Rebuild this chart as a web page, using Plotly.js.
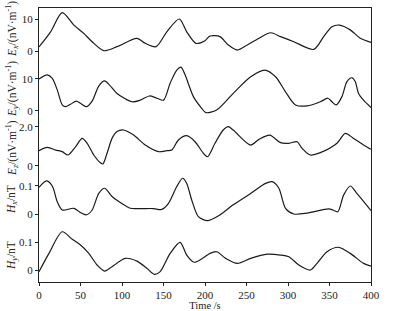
<!DOCTYPE html>
<html><head><meta charset="utf-8">
<script src="https://cdn.plot.ly/plotly-3.0.1.min.js"></script>
<style>html,body{margin:0;padding:0;background:#fff}#chart{width:393px;height:311px}</style>
</head><body><div id="chart"></div>
<script>
// ---- data ----
const exT = [0,14,28,42,54,64,78,94,118,128,141,154,169,178,189,200,206,218,228,239,251,265,279,291,307,331,343,353,362,375,387,400];
const exV = [1.3,6.0,12.0,8.1,5.5,2.9,0.1,1.35,3.96,2.4,1.35,6.0,10.0,6.0,2.4,3.2,4.7,4.5,1.9,0.3,1.9,4.0,5.7,4.5,2.9,0.5,4.5,7.6,8.1,6.6,4.0,2.7];

const eyT = [0,10,16,22,28,32,38,45,50,57,64,72,79,85,94,112,122,133,142,150,158,166,171,176,186,196,201,214,234,255,272,285,297,309,323,339,348,353,358,365,371,377,381,385,391,400];
const eyV = [9.9,11.2,10.1,6.5,1.8,1.25,2.0,3.0,2.3,1.25,3.0,7.7,9.3,8.0,5.4,2.8,3.3,4.6,3.9,3.3,8.6,12.7,13.6,11.2,4.4,0.75,-0.6,0.2,5.4,10.6,12.7,10.6,5.9,1.8,1.5,2.8,3.9,2.8,1.8,4.4,9.1,10.3,9.1,5.4,3.3,1.0];

const ezT = [0,10,20,28,35,44,52,58,66,74,77,82,88,94,102,114,128,144,154,160,168,178,188,198,203,212,222,228,234,255,265,278,291,301,311,317,327,339,359,369,379,391,400];
const ezV = [0.77,0.94,0.8,0.72,0.55,0.97,1.4,1.15,0.55,0.15,0.09,0.64,1.4,1.75,1.83,1.57,1.06,0.72,0.77,0.8,1.32,1.54,1.23,0.64,0.46,1.15,1.83,2.0,1.83,1.06,1.35,1.57,1.18,1.15,1.23,0.89,0.55,0.67,1.15,1.66,1.4,1.06,0.84];

const hxT = [0,9,16,22,28,42,50,57,64,72,79,88,98,110,122,138,148,156,166,173,178,184,192,203,218,234,255,273,281,289,297,307,323,349,354,360,367,375,383,400];
const hxV = [0.094,0.117,0.099,0.044,0.015,0.021,0.006,-0.002,0.015,0.073,0.091,0.062,0.041,0.021,0.02,0.02,0.017,0.038,0.097,0.126,0.108,0.05,-0.008,-0.022,-0.002,0.033,0.073,0.108,0.114,0.091,0.021,0.001,0.004,0.019,0.015,0.009,0.067,0.099,0.073,0.013];

const hyT = [0,12,28,40,50,60,70,79,88,104,118,130,139,146,158,170,178,187,198,206,214,225,239,255,275,291,301,313,327,335,347,361,375,391,400];
const hyV = [-0.006,0.06,0.138,0.111,0.09,0.06,0.018,-0.004,0.012,0.042,0.032,0.006,-0.016,-0.006,0.06,0.1,0.054,0.028,0.044,0.06,0.066,0.042,0.024,0.042,0.057,0.054,0.048,0.018,0.0,0.024,0.066,0.082,0.06,0.024,0.014];

const xTicks = [0,50,100,150,200,250,300,350,400];
const panelTitles = ['<i>E</i><sub><i>x</i></sub>/(nV·m<sup>-1</sup>)','<i>E</i><sub><i>y</i></sub>/(nV·m<sup>-1</sup>)','<i>E</i><sub><i>z</i></sub>/(nV·m<sup>-1</sup>)','<i>H</i><sub><i>x</i></sub>/nT','<i>H</i><sub><i>y</i></sub>/nT'];
const panelTickVals = [[0,10],[0,10],[0,2],[0,0.1],[0,0.1]];
const panelTickText = [['0','10'],['0','10'],['0','2.0'],['0','0.1'],['0','0.1']];

// ---- layout geometry ----
const W = 393, H = 311, mL = 39, mR = 22, mT = 8, mB = 29;
const plotH = H - mT - mB;
// pixel rows (from top of page) where each panel's two ticks sit
const tickPix = [[51,19],[110.7,78.7],[165.7,126.7],[214.3,185.7],[270,242.3]];
const titleCenterPix = [29,89,148,200,256];

const font = 'Liberation Serif, Times New Roman, serif';
const series = [[exT,exV],[eyT,eyV],[ezT,ezV],[hxT,hxV],[hyT,hyV]];
const traces = [];
const layout = {
  width: W, height: H,
  margin: {l: mL, r: mR, t: mT, b: mB},
  paper_bgcolor: '#fff', plot_bgcolor: '#fff',
  showlegend: false,
  font: {family: font, size: 11, color: '#222'},
  xaxis: {
    range: [0,400], tickmode: 'array', tickvals: xTicks,
    ticks: 'outside', ticklen: 3, tickcolor: '#222',
    showline: true, linecolor: '#222', linewidth: 1, mirror: true,
    showgrid: false, zeroline: false,
    tickfont: {family: font, size: 11, color: '#222'},
    title: {text: 'Time /s', font: {family: font, size: 10.5, color: '#222'}, standoff: 1}
  },
  annotations: []
};

series.forEach((s, i) => {
  const ax = i === 0 ? 'y' : 'y' + (i + 1);
  const key = i === 0 ? 'yaxis' : 'yaxis' + (i + 1);
  const [v0, v1] = panelTickVals[i];
  const [p0, p1] = tickPix[i];
  const pxPerUnit = (p0 - p1) / (v1 - v0);
  const rLo = v0 - (H - mB - p0) / pxPerUnit;
  const rHi = v0 + (p0 - mT) / pxPerUnit;
  traces.push({
    x: s[0], y: s[1], type: 'scatter', mode: 'lines', yaxis: ax,
    line: {color: '#1a1a1a', width: 1.2, shape: 'spline', smoothing: 0.8},
    hoverinfo: 'skip'
  });
  const axis = {
    range: [rLo, rHi], tickmode: 'array', tickvals: panelTickVals[i], ticktext: panelTickText[i],
    ticks: 'outside', ticklen: 3, tickcolor: '#222',
    showgrid: false, zeroline: false,
    tickfont: {family: font, size: 11, color: '#222'},
    showline: i === 0, linecolor: '#222', linewidth: 1, mirror: i === 0
  };
  if (i > 0) { axis.overlaying = 'y'; axis.side = 'left'; }
  layout[key] = axis;
  layout.annotations.push({
    text: panelTitles[i], textangle: -90,
    xref: 'paper', yref: 'paper',
    x: (12 - mL) / (W - mL - mR), y: (H - mB - titleCenterPix[i]) / plotH,
    xanchor: 'center', yanchor: 'middle', showarrow: false,
    font: {family: font, size: 11.5, color: '#222'}
  });
});

Plotly.newPlot('chart', traces, layout, {staticPlot: true, displayModeBar: false});
</script>
</body></html>
